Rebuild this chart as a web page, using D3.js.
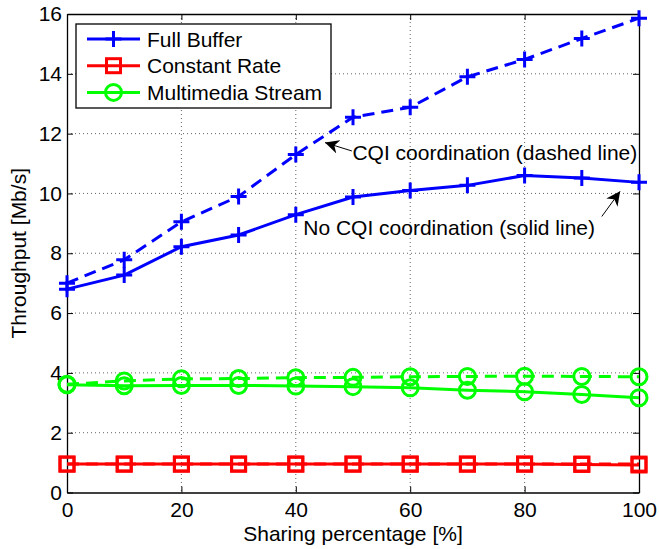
<!DOCTYPE html>
<html>
<head>
<meta charset="utf-8">
<script src="https://cdn.jsdelivr.net/npm/d3@7"></script>
<style>
  html, body { margin: 0; padding: 0; background: #fff; }
  svg text { font-family: "Liberation Sans", Arial, Helvetica, sans-serif; fill: #000; }
</style>
</head>
<body>
<svg id="chart" width="659" height="549"></svg>
<script>
// ---- data ----
const sharing = [0, 10, 20, 30, 40, 50, 60, 70, 80, 90, 100];
const fullBufferCQI    = [7.0, 7.78, 9.05, 9.9, 11.3, 12.55, 12.88, 13.9, 14.48, 15.18, 15.86];
const fullBufferNoCQI  = [6.8, 7.27, 8.22, 8.61, 9.29, 9.88, 10.1, 10.27, 10.6, 10.52, 10.37];
const constantCQI      = [0.95, 0.95, 0.95, 0.95, 0.95, 0.95, 0.95, 0.95, 0.95, 0.95, 0.95];
const constantNoCQI    = [0.95, 0.95, 0.95, 0.95, 0.95, 0.95, 0.95, 0.95, 0.95, 0.94, 0.92];
const multimediaCQI    = [3.62, 3.73, 3.8, 3.81, 3.84, 3.85, 3.87, 3.88, 3.89, 3.88, 3.87];
const multimediaNoCQI  = [3.6, 3.57, 3.58, 3.58, 3.56, 3.54, 3.5, 3.42, 3.37, 3.28, 3.17];
const xTicks = [0, 20, 40, 60, 80, 100];
const yTicks = [0, 2, 4, 6, 8, 10, 12, 14, 16];
const legendLabels = ["Full Buffer", "Constant Rate", "Multimedia Stream"];
const xLabel = "Sharing percentage [%]";
const yLabel = "Throughput [Mb/s]";
const annotations = [
  { text: "CQI coordination (dashed line)", tx: 49.9, ty: 11.13, ax0: 49.8, ay0: 11.42, ax1: 45.1, ay1: 11.7 },
  { text: "No CQI coordination (solid line)", tx: 41.3, ty: 8.62, ax0: 93.5, ay0: 9.23, ax1: 96.7, ay1: 10.07 }
];

// ---- layout ----
const svg = d3.select("#chart");
const L = 67, R = 639, T = 14, B = 492.5;
const x = d3.scaleLinear().domain([0, 100]).range([L, R]);
const y = d3.scaleLinear().domain([0, 16]).range([B, T]);
const FS = 21;

// grid
const grid = svg.append("g");
grid.selectAll(".gx").data(xTicks.slice(1, -1)).enter().append("line")
  .attr("x1", d => x(d)).attr("x2", d => x(d)).attr("y1", T).attr("y2", B)
  .attr("stroke", "#000").attr("stroke-width", 1).attr("stroke-dasharray", "1,3").attr("opacity", 0.6);
grid.selectAll(".gy").data(yTicks.slice(1, -1)).enter().append("line")
  .attr("y1", d => y(d)).attr("y2", d => y(d)).attr("x1", L).attr("x2", R)
  .attr("stroke", "#000").attr("stroke-width", 1).attr("stroke-dasharray", "1,3").attr("opacity", 0.6);

// axes
const axB = svg.append("g").attr("transform", `translate(0,${B})`)
  .call(d3.axisBottom(x).tickValues(xTicks).tickSizeInner(-6).tickSizeOuter(0).tickPadding(10));
const axT = svg.append("g").attr("transform", `translate(0,${T})`)
  .call(d3.axisTop(x).tickValues(xTicks).tickSizeInner(-6).tickSizeOuter(0).tickFormat(""));
const axL = svg.append("g").attr("transform", `translate(${L},0)`)
  .call(d3.axisLeft(y).tickValues(yTicks).tickSizeInner(-6).tickSizeOuter(0).tickPadding(5));
const axR = svg.append("g").attr("transform", `translate(${R},0)`)
  .call(d3.axisRight(y).tickValues(yTicks).tickSizeInner(-6).tickSizeOuter(0).tickFormat(""));
[axB, axT, axL, axR].forEach(a => {
  a.select(".domain").attr("stroke", "#000").attr("stroke-width", 1.3);
  a.selectAll(".tick line").attr("stroke", "#000").attr("stroke-width", 1);
  a.selectAll("text").attr("font-size", FS).attr("font-family", null);
});
axB.selectAll("text").attr("dy", "0.71em");

// axis labels
svg.append("text").attr("x", (L + R) / 2).attr("y", 541).attr("text-anchor", "middle")
  .attr("font-size", FS).text(xLabel);
svg.append("text").attr("transform", `translate(26,${(T + B) / 2}) rotate(-90)`)
  .attr("text-anchor", "middle").attr("font-size", FS).text(yLabel);

// series
const series = [
  { vals: fullBufferNoCQI, color: "#0000ff", marker: "plus", dash: null },
  { vals: constantNoCQI, color: "#ff0000", marker: "square", dash: null },
  { vals: multimediaNoCQI, color: "#00ff00", marker: "circle", dash: null },
  { vals: fullBufferCQI, color: "#0000ff", marker: "plus", dash: "12,7" },
  { vals: constantCQI, color: "#ff0000", marker: "square", dash: "12,7" },
  { vals: multimediaCQI, color: "#00ff00", marker: "circle", dash: "12,7" }
];
const line = d3.line().x((d, i) => x(sharing[i])).y(d => y(d));

function drawMarker(g, type, cx, cy, color) {
  if (type === "plus") {
    g.append("path").attr("d", `M${cx - 8},${cy}H${cx + 8}M${cx},${cy - 8}V${cy + 8}`)
      .attr("stroke", color).attr("stroke-width", 3).attr("fill", "none");
  } else if (type === "square") {
    g.append("rect").attr("x", cx - 7).attr("y", cy - 7).attr("width", 14).attr("height", 14)
      .attr("stroke", color).attr("stroke-width", 3).attr("fill", "none");
  } else {
    g.append("circle").attr("cx", cx).attr("cy", cy).attr("r", 8)
      .attr("stroke", color).attr("stroke-width", 3).attr("fill", "none");
  }
}

series.forEach(s => {
  const g = svg.append("g");
  g.append("path").datum(s.vals).attr("d", line).attr("fill", "none")
    .attr("stroke", s.color).attr("stroke-width", 3)
    .attr("stroke-dasharray", s.dash);
  s.vals.forEach((v, i) => drawMarker(g, s.marker, x(sharing[i]), y(v), s.color));
});

// annotations
svg.append("defs").append("marker").attr("id", "ah").attr("viewBox", "0 0 10 10")
  .attr("refX", 10).attr("refY", 5).attr("markerWidth", 14).attr("markerHeight", 14)
  .attr("markerUnits", "userSpaceOnUse").attr("orient", "auto")
  .append("path").attr("d", "M0,0L10,5L0,10L3,5Z").attr("fill", "#000");
annotations.forEach(a => {
  svg.append("line").attr("x1", x(a.ax0)).attr("y1", y(a.ay0)).attr("x2", x(a.ax1)).attr("y2", y(a.ay1))
    .attr("stroke", "#000").attr("stroke-width", 1).attr("marker-end", "url(#ah)");
  svg.append("text").attr("x", x(a.tx)).attr("y", y(a.ty)).attr("font-size", FS).text(a.text);
});

// legend
const lg = svg.append("g");
lg.append("rect").attr("x", 76).attr("y", 24).attr("width", 255).attr("height", 84)
  .attr("fill", "#fff").attr("stroke", "#000").attr("stroke-width", 1.3);
const legendSeries = series.slice(0, 3);
legendLabels.forEach((lab, i) => {
  const cy = 39 + i * 26.7;
  const s = legendSeries[i];
  lg.append("line").attr("x1", 87).attr("x2", 140).attr("y1", cy).attr("y2", cy)
    .attr("stroke", s.color).attr("stroke-width", 3);
  drawMarker(lg, s.marker, 113.5, cy, s.color);
  lg.append("text").attr("x", 147).attr("y", cy).attr("dy", "0.36em").attr("font-size", FS).text(lab);
});
</script>
</body>
</html>
